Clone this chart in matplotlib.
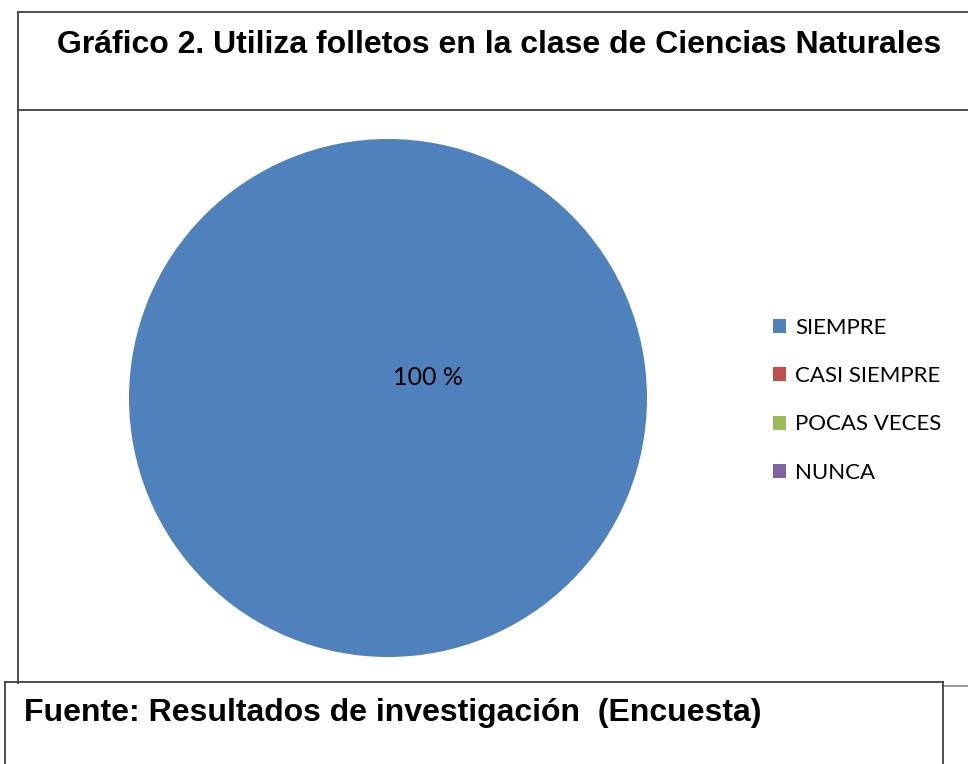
import matplotlib
matplotlib.use("Agg")
import matplotlib.pyplot as plt
from matplotlib.lines import Line2D

categories = ["SIEMPRE", "CASI SIEMPRE", "POCAS VECES", "NUNCA"]
values = [100, 0, 0, 0]
colors = ["#4F81BD", "#C0504D", "#9BBB59", "#8064A2"]
title = "Gráfico 2. Utiliza folletos en la clase de Ciencias Naturales"
source = "Fuente: Resultados de investigación  (Encuesta)"
pct_label = "100 %"

W, H = 968, 764
fig = plt.figure(figsize=(W / 100, H / 100), dpi=100)

def fx(x):
    return x / W

def fy(y):
    return 1 - y / H

# pie axes
cx, cy, r = 388, 398, 259
ax = fig.add_axes([fx(cx - r), fy(cy + r), 2 * r / W, 2 * r / H])
wedges, _ = ax.pie(values, colors=colors, startangle=90, counterclock=False,
                   wedgeprops=dict(linewidth=0))
ax.set_xlim(-1, 1)
ax.set_ylim(-1, 1)
ax.set_aspect("equal")
ax.axis("off")
ax.text(0.155, 0.08, pct_label, ha="center", va="center", fontsize=18,
        family="Lato", color="#000000")

# frames
lc = "#404040"
fig.add_artist(Line2D([fx(18), fx(18)], [fy(12), fy(683)], color=lc, lw=1.3))
fig.add_artist(Line2D([fx(18), fx(968)], [fy(12), fy(12)], color=lc, lw=1.3))
fig.add_artist(Line2D([fx(18), fx(968)], [fy(110), fy(110)], color=lc, lw=1.3))
fig.add_artist(Line2D([fx(943), fx(968)], [fy(686), fy(686)], color="#909090", lw=1.3))
fig.add_artist(Line2D([fx(5), fx(943)], [fy(682), fy(682)], color=lc, lw=1.3))
fig.add_artist(Line2D([fx(5), fx(5)], [fy(682), fy(764)], color=lc, lw=1.3))
fig.add_artist(Line2D([fx(943), fx(943)], [fy(682), fy(764)], color=lc, lw=1.3))

fig.text(fx(499.5), fy(45), title, ha="center", va="center", fontsize=23,
         fontweight="bold", family="Liberation Sans")
fig.text(fx(24), fy(713), source, ha="left", va="center", fontsize=23,
         fontweight="bold", family="Liberation Sans")

leg = fig.legend(wedges, categories, loc="upper left",
                 bbox_to_anchor=(fx(773), fy(318)), frameon=False,
                 borderpad=0, borderaxespad=0,
                 prop=dict(family="Lato", size=16),
                 handlelength=0.6, handleheight=0.6, handletextpad=0.4,
                 labelspacing=1.27)

fig.savefig("out.png", dpi=100)
